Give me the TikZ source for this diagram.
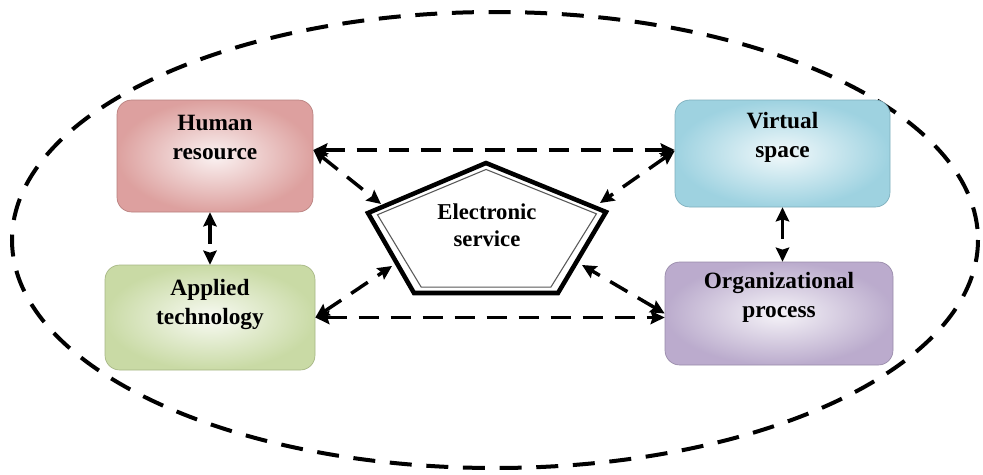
\documentclass[tikz,border=0pt]{standalone}
\usepackage{fontspec}
\setmainfont{Liberation Serif}
\usetikzlibrary{arrows.meta,calc}

\definecolor{hrred}{RGB}{217,150,148}
\definecolor{atgreen}{RGB}{195,214,155}
\definecolor{vsblue}{RGB}{147,205,221}
\definecolor{oppurple}{RGB}{179,162,199}

\tikzset{
  block/.style={draw=#1!85!black, line width=0.5pt, rounded corners=11pt,
    inner color=#1!12, outer color=#1!90, inner sep=0pt},
  lbl/.style={font=\bfseries\fontsize{17.5}{22}\selectfont, align=center, inner sep=0pt},
  link/.style={line width=2.6pt, dash pattern=on 15pt off 9pt,
    {Stealth[length=10.5pt,width=10pt,inset=1.5pt]}-{Stealth[length=10.5pt,width=10pt,inset=1.5pt]}},
  border/.style={line width=3pt, dash pattern=on 16.5pt off 11pt}
}

\begin{document}
\begin{tikzpicture}[x=0.75pt,y=0.75pt,yscale=-1,xscale=1]

\useasboundingbox (0,0) rectangle (983,475);

\draw [border] (495,240) ellipse [x radius=483, y radius=228];

\node [block=hrred, minimum width=147pt, minimum height=84pt] (hr) at (215,156) {};
\node [block=atgreen, minimum width=157.5pt, minimum height=78.75pt] (at) at (210,317.5) {};
\node [block=vsblue, minimum width=161.25pt, minimum height=80.25pt] (vs) at (782.5,153.5) {};
\node [block=oppurple, minimum width=171pt, minimum height=77.25pt] (op) at (779,313.5) {};

\node [lbl] (hrt) at ([yshift=28.5pt]hr.north) {Human\\resource};
\node [lbl] (att) at ([yshift=30pt]at.north) {Applied\\technology};
\node [lbl] (vst) at ([yshift=28.5pt]vs.north) {Virtual\\space};
\node [lbl] (opt) at ([yshift=27pt]op.north) {Organizational\\process};

\coordinate (pt) at (486,163);
\coordinate (pr) at (606,212);
\coordinate (pbr) at (558,293);
\coordinate (pbl) at (414,293);
\coordinate (pl) at (368,213);
\coordinate (pc) at (486.4,234.8);

\draw [line width=3.4pt, line join=miter, fill=white] (pt) -- (pr) -- (pbr) -- (pbl) -- (pl) -- cycle;
\draw [line width=0.8pt, black!65] ($(pc)!0.91!(pt)$) -- ($(pc)!0.92!(pr)$) -- ($(pc)!0.9!(pbr)$) -- ($(pc)!0.9!(pbl)$) -- ($(pc)!0.92!(pl)$) -- cycle;

\node [lbl, font=\bfseries\fontsize{17}{20}\selectfont] (es) at (487,225) {Electronic\\service};

\coordinate (ehr) at (381,204);
\coordinate (evs) at (600,203);
\coordinate (eat) at (392,266);
\coordinate (eop) at (582,265);

\draw [link] ([yshift=-4.5pt]hr.east) -- ([yshift=-4.5pt]hr.east -| vs.west);
\draw [link] (at.east) -- (at.east -| op.west);
\draw [link] (hr.south -| at.north) -- (at.north);
\draw [link] (vs.south) -- (vs.south |- op.north);

\draw [link] ([yshift=-4.5pt]hr.east) -- (ehr);
\draw [link] ([yshift=-2pt]vs.west) -- (evs);
\draw [link] (at.east) -- (eat);
\draw [link] (op.west) -- (eop);

\end{tikzpicture}
\end{document}
